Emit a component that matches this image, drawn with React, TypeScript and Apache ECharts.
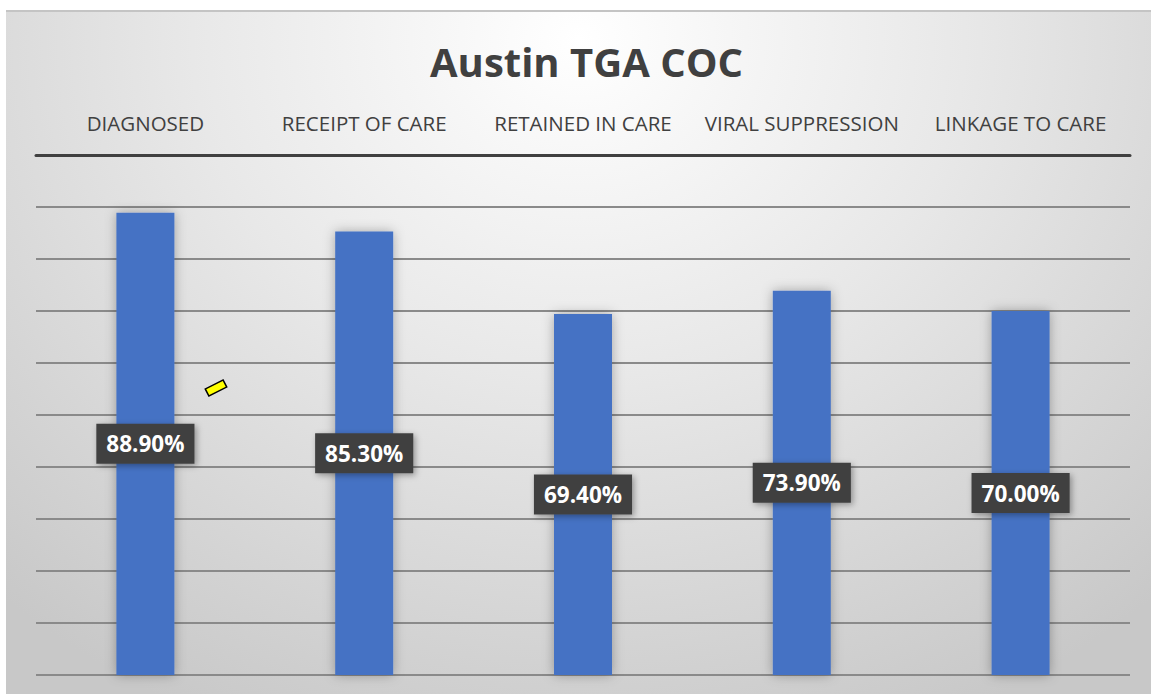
import React, { useEffect, useRef } from "react";
import * as echarts from "echarts";

const categories = ["DIAGNOSED", "RECEIPT OF CARE", "RETAINED IN CARE", "VIRAL SUPPRESSION", "LINKAGE TO CARE"];
const values = [88.9, 85.3, 69.4, 73.9, 70.0];
const title = "Austin TGA COC";

export default function App() {
  const ref = useRef<HTMLDivElement>(null);
  useEffect(() => {
    if (!ref.current) return;
    const chart = echarts.init(ref.current, null, { renderer: "svg" });
    chart.setOption({
      animation: false,
      backgroundColor: "transparent",
      title: {
        text: title,
        left: 425,
        top: 36,
        textStyle: { fontFamily: "Open Sans", fontWeight: "bold", fontSize: 40, color: "#404040" },
      },
      grid: { left: 36, right: 21, top: 155, bottom: 19, containLabel: false },
      xAxis: {
        type: "category",
        data: categories,
        position: "top",
        axisLine: { show: true, onZero: false, lineStyle: { color: "#404040", width: 3 } },
        axisTick: { show: false },
        axisLabel: { fontFamily: "Open Sans", fontSize: 20.5, color: "#404040", margin: 22, interval: 0 },
        splitLine: { show: false },
      },
      yAxis: {
        type: "value",
        min: 0,
        max: 100,
        interval: 10,
        axisLine: { show: false },
        axisTick: { show: false },
        axisLabel: { show: false },
        splitLine: {
          show: true,
          lineStyle: { color: "#8a8a8a", width: 2, type: "solid" },
        },
      },
      series: [
        {
          type: "bar",
          data: values,
          barWidth: 58,
          itemStyle: { color: "#4472C4", shadowColor: "rgba(0,0,0,0.3)", shadowBlur: 12 },
          label: {
            show: true,
            position: "inside",
            formatter: (p: any) => p.value.toFixed(2) + "%",
            fontFamily: "Open Sans",
            fontWeight: "bold",
            fontSize: 22.5,
            color: "#ffffff",
            backgroundColor: "#404040",
            padding: [8, 10, 8, 10],
            lineHeight: 24,
            shadowColor: "rgba(0,0,0,0.35)",
            shadowBlur: 6,
            shadowOffsetX: 2,
            shadowOffsetY: 2,
          },
        },
      ],
      graphic: [
        {
          type: "group",
          x: 216,
          y: 388,
          rotation: 0.47,
          children: [
            {
              type: "rect",
              shape: { x: -10, y: -4, width: 20, height: 8 },
              style: { fill: "#ffff00", stroke: "#000000", lineWidth: 1.5 },
            },
          ],
        },
      ],
    });
    return () => chart.dispose();
  }, []);
  return (
    <div style={{ position: "absolute", left: 0, top: 0, width: 1151, height: 694, background: "#ffffff", overflow: "hidden" }}>
      <div
        style={{
          position: "absolute",
          left: 6,
          top: 10,
          width: 1145,
          height: 684,
          borderTop: "2px solid #c4c4c4",
          background: "radial-gradient(ellipse 75% 110% at 50% 4%, #ffffff 0%, #e8e8e8 45%, #c8c8c8 100%)",
        }}
      />
      <div ref={ref} style={{ position: "absolute", left: 0, top: 0, width: 1151, height: 694 }} />
    </div>
  );
}
